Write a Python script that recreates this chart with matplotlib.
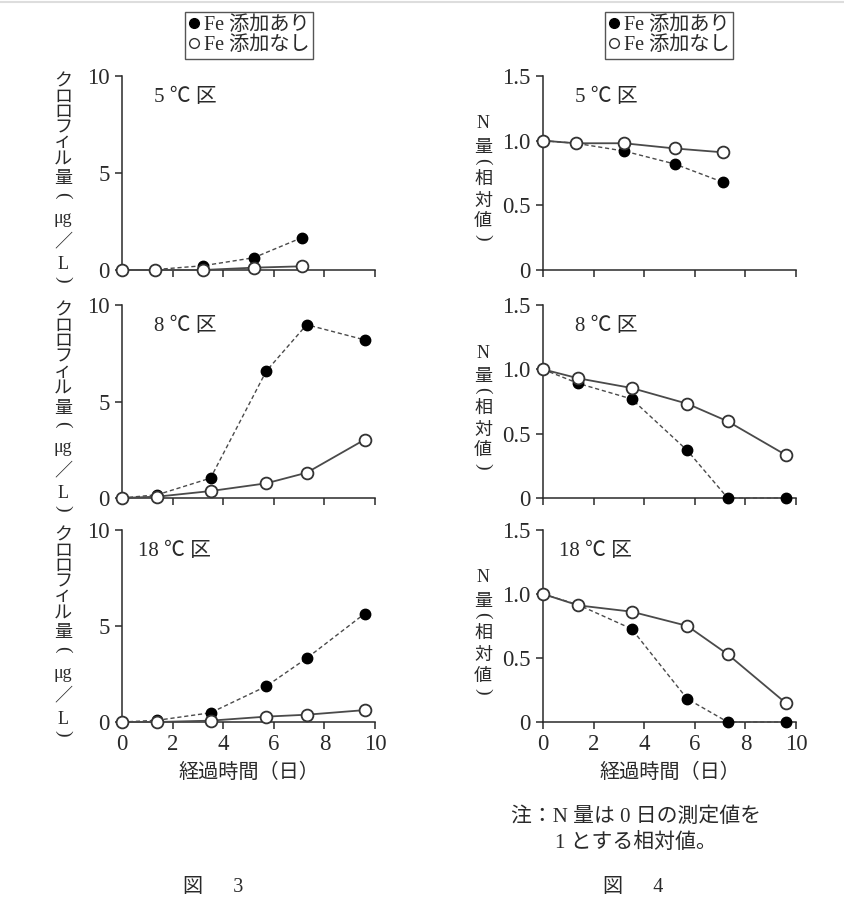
import matplotlib
matplotlib.use("Agg")
import matplotlib.pyplot as plt
from matplotlib.lines import Line2D

plt.rcParams['font.family'] = ['Liberation Serif', 'Noto Sans CJK JP']

# --- data ---
days_5 = [0, 1.3, 3.2, 5.2, 7.1]
days = [0, 1.4, 3.5, 5.7, 7.3, 9.6]

chl_fe_5 = [0, 0.02, 0.22, 0.63, 1.66]
chl_nofe_5 = [0, 0, 0.0, 0.12, 0.19]
chl_fe_8 = [0, 0.17, 1.03, 6.57, 8.98, 8.19]
chl_nofe_8 = [0, 0.07, 0.36, 0.76, 1.31, 3.03]
chl_fe_18 = [0, 0.09, 0.48, 1.86, 3.32, 5.65]
chl_nofe_18 = [0, 0, 0.07, 0.28, 0.38, 0.62]

n_fe_5 = [1.0, 0.98, 0.92, 0.82, 0.68]
n_nofe_5 = [1.0, 0.98, 0.98, 0.94, 0.91]
n_fe_8 = [1.0, 0.89, 0.77, 0.37, 0.0, 0.0]
n_nofe_8 = [1.0, 0.93, 0.855, 0.733, 0.596, 0.334]
n_fe_18 = [1.0, 0.915, 0.728, 0.181, 0.0, 0.0]
n_nofe_18 = [1.0, 0.911, 0.862, 0.751, 0.529, 0.148]

panel_names = ['5 ℃ 区', '8 ℃ 区', '18 ℃ 区']
legend_labels = ['Fe 添加あり', 'Fe 添加なし']
xticks = [0, 2, 4, 6, 8, 10]

# vertical axis titles: (character, pixel offset below axis top)
chl_chars = [('ク', 6), ('ロ', 21), ('ロ', 36.5), ('フ', 52), ('ィ', 67), ('ル', 83),
             ('量', 103), ('(', 119), ('μg', 143), ('／', 166), ('L', 189), (')', 203)]
n_chars = [('N', 48), ('量', 71.5), ('(', 85), ('相', 103), ('対', 125), ('値', 146), (')', 161)]

ink = '#2a2a2a'
line_c = '#4a4a4a'

fig = plt.figure(figsize=(8.44, 9.23), dpi=100)

rows = [(76, 270), (305, 498), (530, 722)]
W, H = 844, 923

def make_ax(left_px, row):
    top, bot = row
    return fig.add_axes([left_px / W, 1 - bot / H, 253 / W, (bot - top) / H])

def style(ax, ymax, yticks, ylabels, show_x):
    ax.set_xlim(0, 10)
    ax.set_ylim(0, ymax)
    for s in ['top', 'right']:
        ax.spines[s].set_visible(False)
    for s in ['left', 'bottom']:
        ax.spines[s].set_color(ink)
        ax.spines[s].set_linewidth(1.1)
    ax.set_xticks(xticks)
    ax.set_yticks(yticks)
    ax.set_yticklabels(ylabels)
    ax.tick_params(axis='y', direction='out', length=5, width=1.1, color=ink,
                   labelsize=16.5, labelcolor=ink, pad=4)
    ax.tick_params(axis='x', direction='out', length=5, width=1.1, color=ink,
                   labelsize=16.5, labelcolor=ink, pad=4)
    if not show_x:
        ax.set_xticklabels([])

def plot_pair(ax, x, fe, nofe):
    ax.plot(x, fe, ls=(0, (3, 2)), color=line_c, lw=1.0, marker='o', ms=7.5,
            mfc='black', mec='black', zorder=3, clip_on=False)
    ax.plot(x, nofe, ls='-', color=line_c, lw=1.3, marker='o', ms=8.5,
            mfc='white', mec='#333333', mew=1.3, zorder=4, clip_on=False)

def vlabel(ax, x_px, left_px, row, chars):
    top, bot = row
    h = bot - top
    for ch, off in chars:
        xa, ya = (x_px - left_px) / 253, 1 - off / h
        if ch in '()':
            # parentheses of vertical writing: a round bracket turned a quarter
            ax.text(xa, ya, ch, transform=ax.transAxes, fontsize=14, color=ink,
                    ha='center', va='center', rotation=-90, rotation_mode='anchor',
                    family='Liberation Serif')
        else:
            ax.text(xa, ya, ch, transform=ax.transAxes, fontsize=13, color=ink,
                    ha='center', va='center')

chl = [(days_5, chl_fe_5, chl_nofe_5), (days, chl_fe_8, chl_nofe_8),
       (days, chl_fe_18, chl_nofe_18)]
nit = [(days_5, n_fe_5, n_nofe_5), (days, n_fe_8, n_nofe_8),
       (days, n_fe_18, n_nofe_18)]

for i in range(3):
    ax = make_ax(122, rows[i])
    x, a, b = chl[i]
    plot_pair(ax, x, a, b)
    style(ax, 10, [0, 5, 10], ['0', '5', '10'], i == 2)
    ax.text(0.125 if i < 2 else 0.062, 0.89, panel_names[i], transform=ax.transAxes,
            fontsize=15, color=ink, va='center', ha='left')
    vlabel(ax, 63, 122, rows[i], chl_chars)
    if i == 2:
        ax.set_xlabel('経過時間（日）', fontsize=14.5, color=ink, labelpad=6)

    ax2 = make_ax(543, rows[i])
    x, a, b = nit[i]
    plot_pair(ax2, x, a, b)
    style(ax2, 1.5, [0, 0.5, 1.0, 1.5], ['0', '0.5', '1.0', '1.5'], i == 2)
    ax2.text(0.125 if i < 2 else 0.062, 0.89, panel_names[i], transform=ax2.transAxes,
             fontsize=15, color=ink, va='center', ha='left')
    vlabel(ax2, 483, 543, rows[i], n_chars)
    if i == 2:
        ax2.set_xlabel('経過時間（日）', fontsize=14.5, color=ink, labelpad=6)

handles = [Line2D([], [], ls='none', marker='o', ms=7, mfc='black', mec='black'),
           Line2D([], [], ls='none', marker='o', ms=7, mfc='white', mec='#333333')]
for cx in (249 / W, 669 / W):
    leg = fig.legend(handles, legend_labels, loc='center', bbox_to_anchor=(cx, 1 - 35.5 / H),
                     fontsize=14.5, frameon=True, fancybox=False, handlelength=0.5,
                     handletextpad=0.25, borderpad=0.2, labelspacing=0.02,
                     borderaxespad=0)
    leg.get_frame().set_edgecolor(ink)
    leg.get_frame().set_linewidth(1.0)
    for t in leg.get_texts():
        t.set_color(ink)

fig.text(636 / W, 1 - 817 / H, '注：N 量は 0 日の測定値を', fontsize=15, color=ink,
         ha='center', va='center')
fig.text(636 / W, 1 - 843 / H, '1 とする相対値。', fontsize=15, color=ink,
         ha='center', va='center')
fig.text(213 / W, 1 - 888 / H, '図　  3', fontsize=14.5, color=ink, ha='center', va='center')
fig.text(633 / W, 1 - 888 / H, '図　  4', fontsize=14.5, color=ink, ha='center', va='center')

fig.add_artist(Line2D([0, 1], [0.998, 0.998], color='#dddddd', lw=1.5))

fig.savefig('out.png', dpi=100)
